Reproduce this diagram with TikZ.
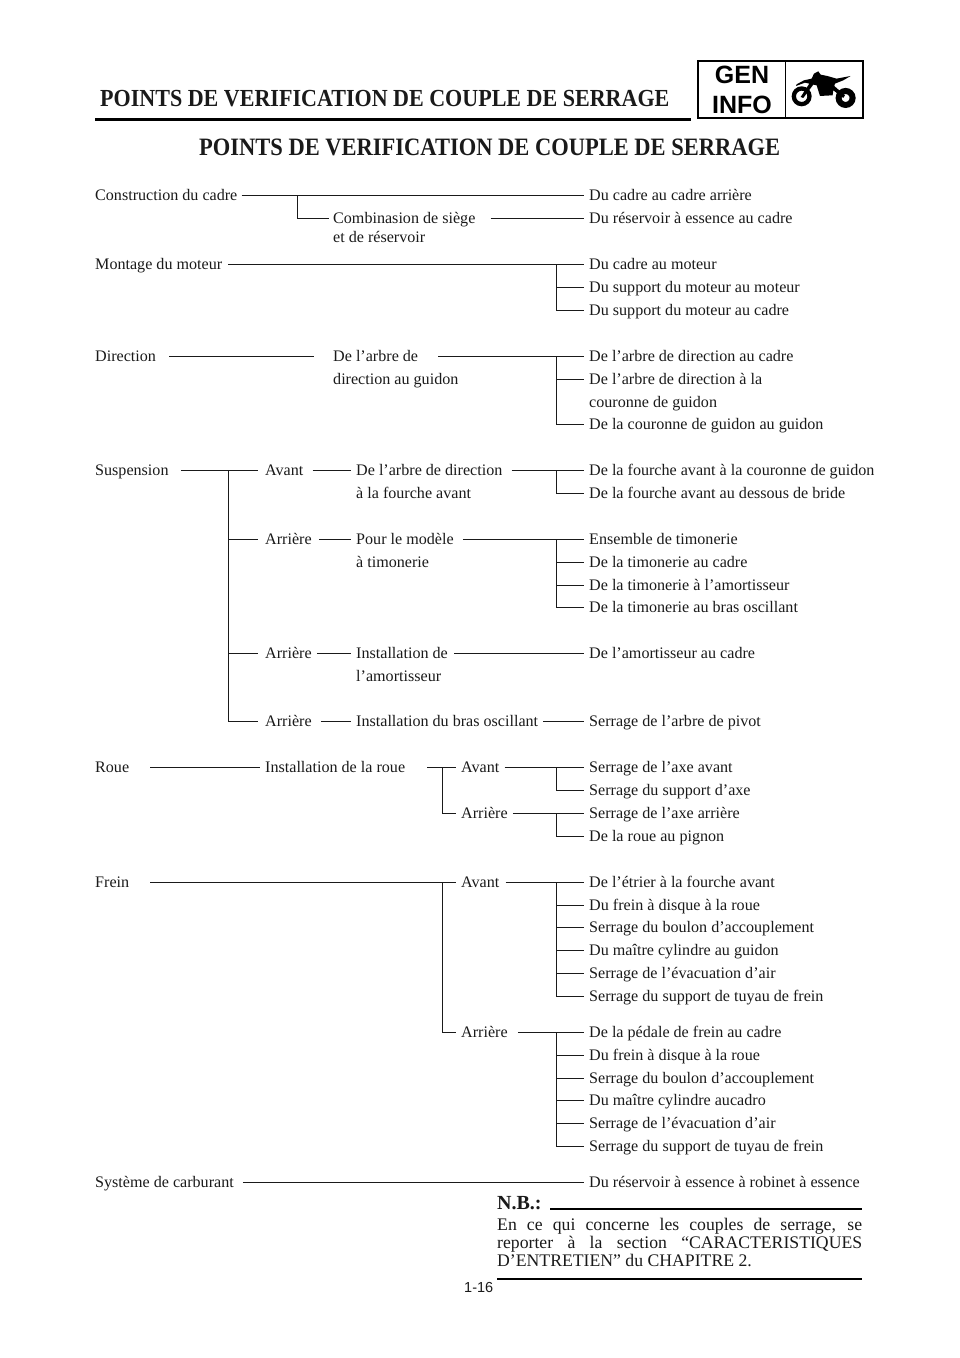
\documentclass[tikz,border=0pt]{standalone}
\usepackage{fontspec}
\setmainfont{Liberation Serif}
\newfontfamily\pagefont{Liberation Sans}
\newfontfamily\headfont[FakeStretch=0.9]{Liberation Serif}
\usetikzlibrary{positioning}
\definecolor{inkBlack}{HTML}{1A1A1A}
\newcommand{\rowfont}{\fontsize{16.1}{18}\selectfont}

\begin{document}
\begin{tikzpicture}[x=1pt, y=-1pt,
    lbl/.style={anchor=west, inner sep=0pt, text height=11.9pt, text depth=1.5pt,
                font=\rowfont, text=inkBlack},
    wire/.style={draw=inkBlack, line width=0.9pt},
    heavy/.style={draw=black, line width=2.6pt},
    heading/.style={anchor=base west, inner sep=0pt, font=\headfont\bfseries\fontsize{24.5}{26}\selectfont, text=inkBlack},
    badge/.style={anchor=center, inner sep=0pt, font=\fontsize{25}{24}\bfseries\pagefont, text=black},
  ]
    \useasboundingbox (0,0) rectangle (960,1358);

    % header
    \node[heading] (head) at (100,106) {POINTS DE VERIFICATION DE COUPLE DE SERRAGE};
    \draw[heavy] (95,119.5) -- (691,119.5);
    \node[heading, font=\headfont\bfseries\fontsize{25}{26}\selectfont] (title) at (199,155) {POINTS DE VERIFICATION DE COUPLE DE SERRAGE};

    % badge
    \draw[black, line width=2pt] (698,61) rectangle (863,118);
    \draw[black, line width=1pt] (785.5,61) -- (785.5,118);
    \node[badge] (gen) at (742,75) {GEN};
    \node[badge] (info) at (742,105) {INFO};
    \begin{scope}[shift={(790,62)}, x=0.333pt, y=-0.333pt]
      \draw[black, line width=4.3pt] (35,103) circle (23.5);
      \draw[black, line width=6pt] (167,108) circle (21);
      \fill[black] (32,105) -- (58,65) -- (45,62) -- (18,72) -- (20,67) -- (42,55) -- (65,50)
        -- (72,35) -- (85,28) -- (92,38) -- (112,42) -- (140,50) -- (182,42) -- (160,55)
        -- (135,65) -- (133,72) -- (165,100) -- (160,108) -- (130,85) -- (128,100)
        -- (90,102) -- (80,70) -- (70,68) -- (40,108) -- cycle;
    \end{scope}

    % right column
    \foreach \name/\ypos/\txt in {
      a1/195.5/Du cadre au cadre arrière,
      a2/218.5/Du réservoir à essence au cadre,
      b1/264/Du cadre au moteur,
      b2/287/Du support du moteur au moteur,
      b3/310/Du support du moteur au cadre,
      c1/356/De l’arbre de direction au cadre,
      c2/379/De l’arbre de direction à la,
      cx/402/couronne de guidon,
      c3/424.5/De la couronne de guidon au guidon,
      d1/470/De la fourche avant à la couronne de guidon,
      d2/493/De la fourche avant au dessous de bride,
      e1/539/Ensemble de timonerie,
      e2/562/De la timonerie au cadre,
      e3/585/De la timonerie à l’amortisseur,
      e4/607.5/De la timonerie au bras oscillant,
      f1/653/De l’amortisseur au cadre,
      g1/721/Serrage de l’arbre de pivot,
      h1/767/Serrage de l’axe avant,
      h2/790/Serrage du support d’axe,
      i1/813/Serrage de l’axe arrière,
      i2/836/De la roue au pignon,
      j1/882/De l’étrier à la fourche avant,
      j2/905/Du frein à disque à la roue,
      j3/927.5/Serrage du boulon d’accouplement,
      j4/950.5/Du maître cylindre au guidon,
      j5/973/Serrage de l’évacuation d’air,
      j6/996/Serrage du support de tuyau de frein,
      k1/1032/De la pédale de frein au cadre,
      k2/1055/Du frein à disque à la roue,
      k3/1078/Serrage du boulon d’accouplement,
      k4/1100.5/Du maître cylindre aucadro,
      k5/1123.5/Serrage de l’évacuation d’air,
      k6/1146/Serrage du support de tuyau de frein,
      m1/1182/Du réservoir à essence à robinet à essence}{
      \node[lbl] (\name) at (589,\ypos) {\txt};
    }

    % left column
    \node[lbl] (cadre) at (95,195.5) {Construction du cadre};
    \node[lbl] (moteur) at (95,264) {Montage du moteur};
    \node[lbl] (direction) at (95,356) {Direction};
    \node[lbl] (susp) at (95,470) {Suspension};
    \node[lbl] (roue) at (95,767) {Roue};
    \node[lbl] (frein) at (95,882) {Frein};
    \node[lbl] (carb) at (95,1182) {Système de carburant};

    % middle columns
    \node[lbl] (siege) at (333,218.5) {Combinasion de siège};
    \node[lbl] (siege2) at (333,237) {et de réservoir};
    \node[lbl] (guidon) at (333,356) {De l’arbre de};
    \node[lbl] (guidon2) at (333,379) {direction au guidon};
    \node[lbl] (avant) at (265,470) {Avant};
    \node[lbl] (arr1) at (265,539) {Arrière};
    \node[lbl] (arr2) at (265,653) {Arrière};
    \node[lbl] (arr3) at (265,721) {Arrière};
    \node[lbl] (fourche) at (356,470) {De l’arbre de direction};
    \node[lbl] (fourche2) at (356,493) {à la fourche avant};
    \node[lbl] (modele) at (356,539) {Pour le modèle};
    \node[lbl] (modele2) at (356,562) {à timonerie};
    \node[lbl] (amort) at (356,653) {Installation de};
    \node[lbl] (amort2) at (356,676) {l’amortisseur};
    \node[lbl] (bras) at (356,721) {Installation du bras oscillant};
    \node[lbl] (instroue) at (265,767) {Installation de la roue};
    \node[lbl] (ravant) at (461,767) {Avant};
    \node[lbl] (rarr) at (461,813) {Arrière};
    \node[lbl] (favant) at (461,882) {Avant};
    \node[lbl] (farr) at (461,1032) {Arrière};

    % connectors, straight runs
    \draw[wire] ([xshift=4]cadre.east) -- ([xshift=-5]a1.west);
    \draw[wire] ([xshift=15]siege.east) -- ([xshift=-5]a2.west);
    \draw[wire] ([xshift=6]moteur.east) -- ([xshift=-5]b1.west);
    \draw[wire] ([xshift=13]direction.east) -- ([xshift=-19]guidon.west);
    \draw[wire] ([xshift=20]guidon.east) -- ([xshift=-5]c1.west);
    \draw[wire] ([xshift=12]susp.east) -- ([xshift=-7]avant.west);
    \draw[wire] ([xshift=9]avant.east) -- ([xshift=-5]fourche.west);
    \draw[wire] ([xshift=9]fourche.east) -- ([xshift=-5]d1.west);
    \draw[wire] ([xshift=7]arr1.east) -- ([xshift=-5]modele.west);
    \draw[wire] ([xshift=9]modele.east) -- ([xshift=-5]e1.west);
    \draw[wire] ([xshift=5]arr2.east) -- ([xshift=-5]amort.west);
    \draw[wire] ([xshift=6]amort.east) -- ([xshift=-5]f1.west);
    \draw[wire] ([xshift=9]arr3.east) -- ([xshift=-5]bras.west);
    \draw[wire] ([xshift=5]bras.east) -- ([xshift=-5]g1.west);
    \draw[wire] ([xshift=21]roue.east) -- ([xshift=-5]instroue.west);
    \draw[wire] ([xshift=22]instroue.east) -- ([xshift=-5]ravant.west);
    \draw[wire] ([xshift=5]ravant.east) -- ([xshift=-5]h1.west);
    \draw[wire] ([xshift=5]rarr.east) -- ([xshift=-5]i1.west);
    \draw[wire] ([xshift=21]frein.east) -- ([xshift=-5]favant.west);
    \draw[wire] ([xshift=6]favant.east) -- ([xshift=-5]j1.west);
    \draw[wire] ([xshift=10]farr.east) -- ([xshift=-5]k1.west);
    \draw[wire] ([xshift=9]carb.east) -- ([xshift=-5]m1.west);

    % connectors, branches off a bus
    \draw[wire] (297,195.5) |- ([xshift=-4]siege.west);
    \draw[wire] (228,470) |- ([xshift=-7]arr3.west);
    \draw[wire] (228,539) -- ([xshift=-7]arr1.west);
    \draw[wire] (228,653) -- ([xshift=-7]arr2.west);
    \draw[wire] (442,767) |- ([xshift=-5]rarr.west);
    \draw[wire] (442,882) |- ([xshift=-5]farr.west);
    \foreach \from/\to in {b1/b2,b1/b3,c1/c2,c1/c3,d1/d2,e1/e2,e1/e3,e1/e4,h1/h2,i1/i2,
        j1/j2,j1/j3,j1/j4,j1/j5,j1/j6,k1/k2,k1/k3,k1/k4,k1/k5,k1/k6}{
      \draw[wire] (556.5,0 |- \from.west) |- ([xshift=-5]\to.west);
    }

    % note
    \node[anchor=base west, inner sep=0pt, font=\fontsize{20}{22}\bfseries\selectfont, text=inkBlack] (nb) at (497,1209) {N.B.:};
    \draw[draw=black, line width=2.2pt] (550,1209) -- (862,1209);
    \node[anchor=north west, inner sep=0pt, text width=365pt, align=justify,
          font=\fontsize{17.7}{18}\selectfont, text=inkBlack] (nbtext) at (497,1218)
      {En ce qui concerne les couples de serrage, se\linebreak
       reporter à la section “CARACTERISTIQUES\linebreak
       D’ENTRETIEN” du CHAPITRE 2.};
    \draw[heavy] (497,1279) -- (862,1279);
    \node[anchor=base west, inner sep=0pt, font=\fontsize{14.5}{16}\pagefont, text=inkBlack] (pagenum) at (464,1292) {1-16};
  \end{tikzpicture}
\end{document}
